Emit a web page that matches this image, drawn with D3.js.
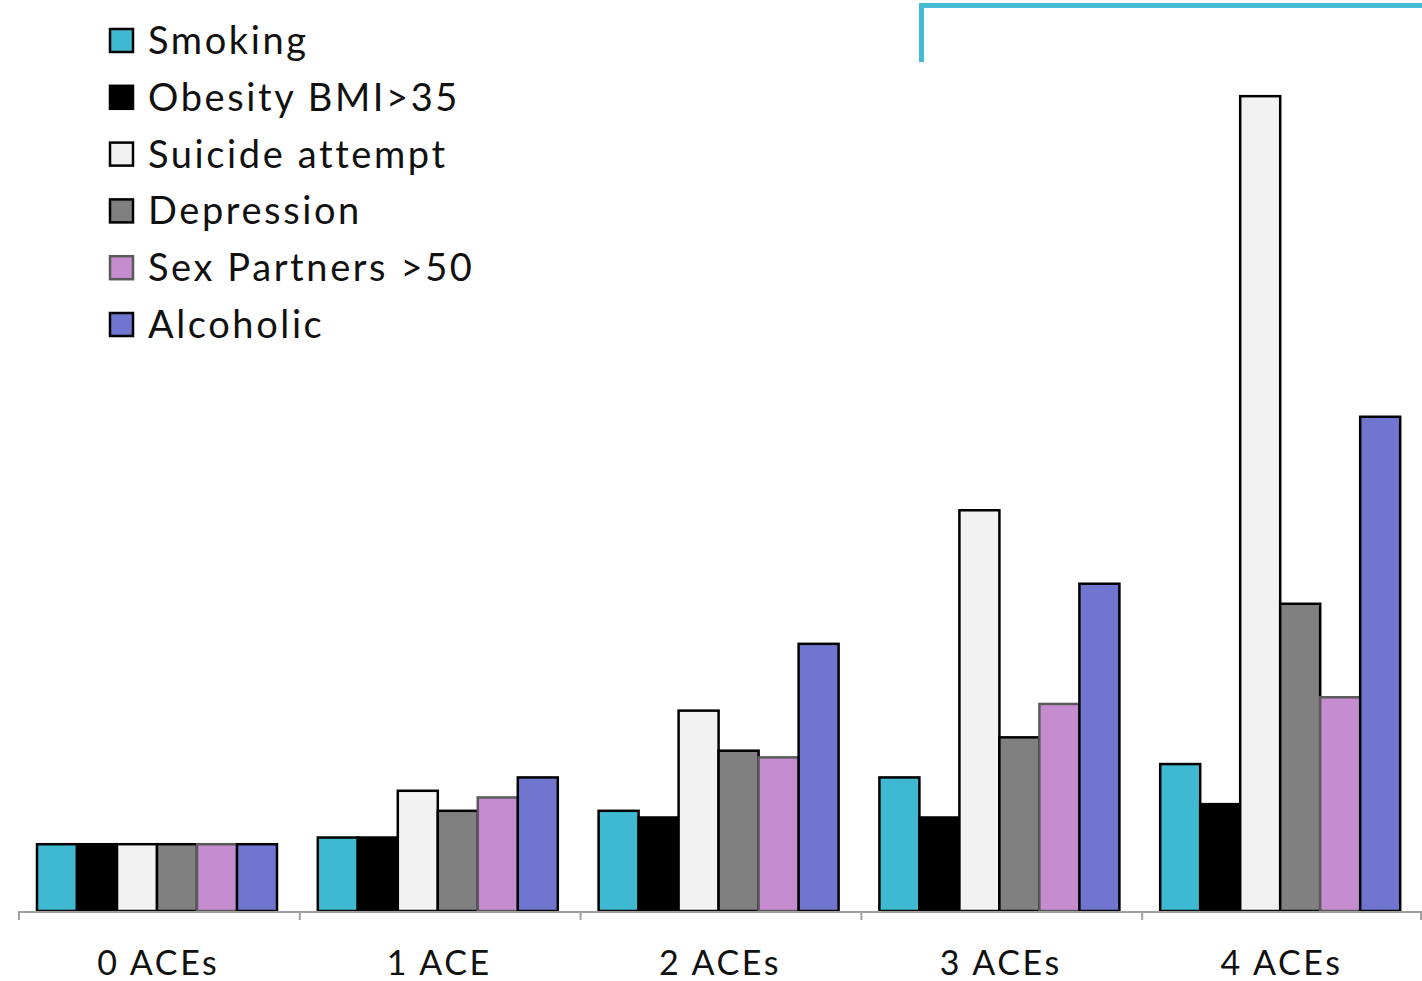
<!DOCTYPE html>
<html>
<head>
<meta charset="utf-8">
<script src="https://cdn.jsdelivr.net/npm/d3@7"></script>
<style>
  html, body { margin: 0; padding: 0; background: #fff; }
  svg { display: block; font-family: Lato, "Noto Sans", sans-serif; }
</style>
</head>
<body>
<svg id="chart" width="1422" height="981"></svg>
<script>
// Relative risk of adult outcomes by number of adverse childhood experiences
const categories = ["0 ACEs", "1 ACE", "2 ACEs", "3 ACEs", "4 ACEs"];
const seriesNames = ["Smoking", "Obesity BMI>35", "Suicide attempt", "Depression", "Sex Partners >50", "Alcoholic"];
const smoking    = [1.0, 1.1, 1.5, 2.0, 2.2];
const obesity    = [1.0, 1.1, 1.4, 1.4, 1.6];
const suicide    = [1.0, 1.8, 3.0, 6.0, 12.2];
const depression = [1.0, 1.5, 2.4, 2.6, 4.6];
const partners   = [1.0, 1.7, 2.3, 3.1, 3.2];
const alcoholic  = [1.0, 2.0, 4.0, 4.9, 7.4];
const seriesValues = [smoking, obesity, suicide, depression, partners, alcoholic];

const fills   = ["#3fb9d2", "#000000", "#f2f2f2", "#808080", "#c58ccf", "#7076d0"];
const strokes = ["#000000", "#000000", "#000000", "#000000", "#5a5a5a", "#000000"];

const svg = d3.select("#chart");
const baseY = 911;

const x0 = d3.scaleBand().domain(categories).range([18, 1422]).paddingInner(0).paddingOuter(0);
const x1 = d3.scaleBand().domain(seriesNames).range([19, x0.bandwidth() - 21.8]).padding(0);
const y = d3.scaleLinear().domain([0, 13.64]).range([baseY, 0]);

// bars
const groups = svg.append("g").selectAll("g")
  .data(categories)
  .join("g")
  .attr("transform", d => `translate(${x0(d)},0)`);

groups.selectAll("rect")
  .data((c, ci) => seriesNames.map((s, si) => ({ s, si, v: seriesValues[si][ci] })))
  .join("rect")
  .attr("x", d => x1(d.s))
  .attr("y", d => y(d.v))
  .attr("width", x1.bandwidth())
  .attr("height", d => baseY - y(d.v))
  .attr("fill", d => fills[d.si])
  .attr("stroke", d => strokes[d.si])
  .attr("stroke-width", 2.5);

// category axis
const axisColor = "#a0a0a0";
svg.append("line")
  .attr("x1", 19).attr("x2", 1421)
  .attr("y1", baseY + 1).attr("y2", baseY + 1)
  .attr("stroke", axisColor).attr("stroke-width", 2);

const tickXs = categories.map(c => x0(c) + 1).concat([1421]);
svg.append("g").selectAll("line")
  .data(tickXs)
  .join("line")
  .attr("x1", d => d).attr("x2", d => d)
  .attr("y1", baseY).attr("y2", baseY + 9)
  .attr("stroke", axisColor).attr("stroke-width", 2);

svg.append("g").selectAll("text")
  .data(categories)
  .join("text")
  .attr("x", d => x0(d) + x0.bandwidth() / 2)
  .attr("y", 975)
  .attr("text-anchor", "middle")
  .attr("font-size", 34)
  .attr("letter-spacing", 2.6)
  .attr("fill", "#111")
  .text(d => d);

// legend
const legend = svg.append("g").selectAll("g")
  .data(seriesNames)
  .join("g")
  .attr("transform", (d, i) => `translate(110, ${41 + i * 56.8})`);

legend.append("rect")
  .attr("x", 0).attr("y", -12)
  .attr("width", 23).attr("height", 23)
  .attr("fill", (d, i) => fills[i])
  .attr("stroke", (d, i) => strokes[i])
  .attr("stroke-width", 2.5);

legend.append("text")
  .attr("x", 38).attr("y", 13)
  .attr("font-size", 38)
  .attr("letter-spacing", 2.6)
  .attr("fill", "#111")
  .text(d => d);

// bracket line in the top right corner
svg.append("path")
  .attr("d", "M921.5,62 V5.5 H1422")
  .attr("fill", "none")
  .attr("stroke", "#45bbd5")
  .attr("stroke-width", 5);
</script>
</body>
</html>
